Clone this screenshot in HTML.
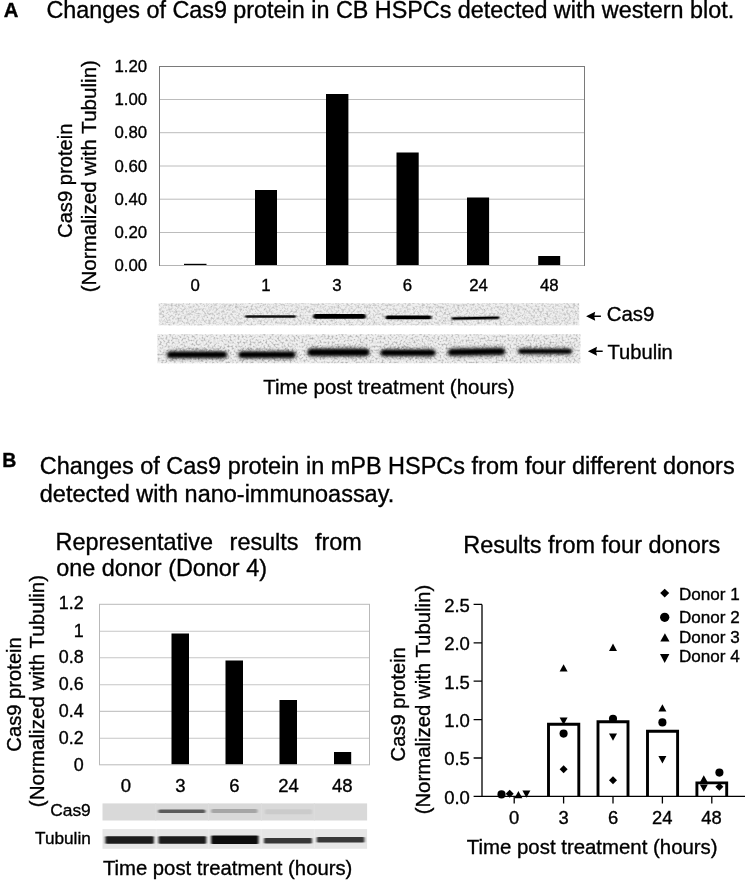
<!DOCTYPE html>
<html><head><meta charset="utf-8"><title>Cas9 protein figure</title>
<style>
html,body{margin:0;padding:0;background:#fff;}
body{width:747px;height:881px;position:relative;overflow:hidden;font-family:"Liberation Sans",Arial,sans-serif;color:#000;}
.t{position:absolute;white-space:nowrap;line-height:1;}
svg{position:absolute;left:0;top:0;}
svg text{font-family:"Liberation Sans",Arial,sans-serif;fill:#000;stroke:#000;stroke-width:0.35px;font-variant-ligatures:none;font-kerning:normal;}
</style></head><body>
<svg width="747" height="881" viewBox="0 0 747 881">
<defs>
<filter id="noise" x="0" y="0" width="100%" height="100%">
<feTurbulence type="fractalNoise" baseFrequency="0.45" numOctaves="2" seed="7" result="n"/>
<feColorMatrix in="n" type="matrix" values="0 0 0 0 0  0 0 0 0 0  0 0 0 0 0  2.4 0 0 0 -1.0"/>
<feGaussianBlur stdDeviation="0.6" result="nb"/>
<feComposite in="SourceGraphic" in2="nb" operator="in"/>
</filter>
<filter id="noise2" x="0" y="0" width="100%" height="100%">
<feTurbulence type="fractalNoise" baseFrequency="0.5" numOctaves="2" seed="21" result="n"/>
<feColorMatrix in="n" type="matrix" values="0 0 0 0 0  0 0 0 0 0  0 0 0 0 0  2.6 0 0 0 -1.15"/>
<feGaussianBlur stdDeviation="0.55" result="nb"/>
<feComposite in="SourceGraphic" in2="nb" operator="in"/>
</filter>
<filter id="b1" x="-10%" y="-100%" width="120%" height="300%"><feGaussianBlur stdDeviation="1.4 0.9"/></filter>
<filter id="b2" x="-10%" y="-100%" width="120%" height="300%"><feGaussianBlur stdDeviation="2 1.3"/></filter>
<filter id="b4" x="-5%" y="-50%" width="110%" height="200%"><feGaussianBlur stdDeviation="0.9 0.7"/></filter>
<filter id="rough" x="-10%" y="-150%" width="120%" height="400%">
<feGaussianBlur in="SourceGraphic" stdDeviation="2 1.4" result="bl"/>
<feTurbulence type="fractalNoise" baseFrequency="0.35" numOctaves="2" seed="11" result="t"/>
<feDisplacementMap in="bl" in2="t" scale="4" xChannelSelector="R" yChannelSelector="G"/>
</filter>
<filter id="b5" x="-10%" y="-100%" width="120%" height="300%"><feGaussianBlur stdDeviation="1.0 0.55"/></filter>
<filter id="b3" x="-10%" y="-100%" width="120%" height="300%"><feGaussianBlur stdDeviation="1.2 0.8"/></filter>
</defs>

<!-- ===== Panel A chart ===== -->
<g id="chartA">
<g stroke="#bcbcbc" stroke-width="1">
<line x1="160" y1="99.5" x2="584" y2="99.5"/>
<line x1="160" y1="132.7" x2="584" y2="132.7"/>
<line x1="160" y1="166" x2="584" y2="166"/>
<line x1="160" y1="199.2" x2="584" y2="199.2"/>
<line x1="160" y1="232.5" x2="584" y2="232.5"/>
</g>
<g fill="#000">
<rect x="184" y="263.8" width="22.5" height="1.7"/>
<rect x="255" y="190" width="22" height="75.5"/>
<rect x="326" y="94" width="22.4" height="171.5"/>
<rect x="396.5" y="152.5" width="22.2" height="113"/>
<rect x="467" y="197.5" width="22.1" height="68"/>
<rect x="538.2" y="256" width="22" height="9.5"/>
</g>
<rect x="159.5" y="66.5" width="425" height="199" fill="none" stroke="#7a7a7a" stroke-width="1"/>
<line x1="160" y1="265.5" x2="584" y2="265.5" stroke="#b4b4b4" stroke-width="1"/>
<g font-size="16.8" text-anchor="end">
<text x="147.1" y="72.1">1.20</text>
<text x="147.1" y="105.1">1.00</text>
<text x="147.1" y="138.3">0.80</text>
<text x="147.1" y="171.6">0.60</text>
<text x="147.1" y="204.8">0.40</text>
<text x="147.1" y="238.1">0.20</text>
<text x="147.1" y="271.1">0.00</text>
</g>
<g font-size="16.8" text-anchor="middle">
<text x="195.2" y="290.6">0</text>
<text x="266" y="290.6">1</text>
<text x="337" y="290.6">3</text>
<text x="407.5" y="290.6">6</text>
<text x="478.5" y="290.6">24</text>
<text x="549.3" y="290.6">48</text>
</g>
<text font-size="20.2" text-anchor="middle" transform="translate(71.6,180.7) rotate(-90)">Cas9 protein</text>
<text font-size="20.6" text-anchor="middle" transform="translate(95.5,176.2) rotate(-90)">(Normalized with Tubulin)</text>
</g>

<!-- ===== Panel A blots ===== -->
<g id="blotA">
<rect x="158.8" y="303.2" width="420.4" height="22.2" fill="#efefef"/>
<rect x="158.8" y="303.2" width="420.4" height="22.2" fill="#b8b8b8" filter="url(#noise)"/>
<rect x="157.4" y="334.3" width="423" height="29" fill="#f0f0f0"/>
<rect x="157.4" y="334.3" width="423" height="29" fill="#a8a8a8" filter="url(#noise2)"/>
<g fill="#000">
<rect x="245" y="315.2" width="51" height="2.6" rx="1.3" filter="url(#b5)" opacity="0.92"/>
<rect x="313" y="314" width="53" height="4.8" rx="2.4" filter="url(#b5)"/>
<rect x="385.5" y="315.5" width="46" height="3.8" rx="1.9" filter="url(#b5)"/>
<rect x="451.5" y="316.7" width="48" height="2.7" rx="1.3" filter="url(#b5)" transform="rotate(-1 475 318)"/>
<rect x="166.5" y="349.8" width="61" height="9.8" rx="4.9" filter="url(#rough)" opacity="0.38"/>
<rect x="167.5" y="352" width="59" height="5.4" rx="2.7" filter="url(#b1)"/>
<rect x="238" y="349.8" width="58" height="9.8" rx="4.9" filter="url(#rough)" opacity="0.38"/>
<rect x="239" y="352" width="56" height="5.4" rx="2.7" filter="url(#b1)"/>
<rect x="307" y="347.0" width="63" height="10.600000000000001" rx="5.3" filter="url(#rough)" opacity="0.38"/>
<rect x="308" y="349.2" width="61" height="6.2" rx="3.1" filter="url(#b1)"/>
<rect x="380" y="347.8" width="56" height="10.0" rx="5.0" filter="url(#rough)" opacity="0.38"/>
<rect x="381" y="350" width="54" height="5.6" rx="2.8" filter="url(#b1)"/>
<rect x="447.5" y="346.8" width="58" height="10.2" rx="5.1" filter="url(#rough)" opacity="0.38" transform="rotate(-1 476 352)"/>
<rect x="448.5" y="349" width="56" height="5.8" rx="2.9" filter="url(#b1)" transform="rotate(-1 476 352)"/>
<rect x="517.5" y="347.0" width="55" height="8.600000000000001" rx="4.3" filter="url(#rough)" opacity="0.38"/>
<rect x="518.5" y="349.2" width="53" height="4.2" rx="2.1" filter="url(#b1)"/>
</g>
<g fill="#000" stroke="none">
<path d="M586.1 316.2 L595.2 311.7 L594.4 315.5 L600.9 315.5 L600.9 316.9 L594.4 316.9 L595.2 320.7 Z"/>
<path d="M587.9 351.3 L597 346.8 L596.2 350.6 L602.7 350.6 L602.7 352 L596.2 352 L597 355.8 Z"/>
</g>
<text x="606.8" y="321.2" font-size="20.4">Cas9</text>
<text x="607.5" y="358.5" font-size="20.15">Tubulin</text>
<text x="263.2" y="394.2" font-size="20.45">Time post treatment (hours)</text>
</g>

<!-- ===== Panel B left chart ===== -->
<g id="chartB1">
<g stroke="#c6c6c6" stroke-width="1.15">
<line x1="100" y1="631.2" x2="369" y2="631.2"/>
<line x1="100" y1="657.7" x2="369" y2="657.7"/>
<line x1="100" y1="684.7" x2="369" y2="684.7"/>
<line x1="100" y1="711.4" x2="369" y2="711.4"/>
<line x1="100" y1="738.2" x2="369" y2="738.2"/>
</g>
<g fill="#000">
<rect x="171.5" y="633.5" width="17.5" height="131"/>
<rect x="225.5" y="660.5" width="17.5" height="104"/>
<rect x="279.5" y="700" width="17.5" height="64.5"/>
<rect x="334" y="752" width="17.2" height="12.5"/>
</g>
<rect x="99.5" y="604.3" width="270" height="160.5" fill="none" stroke="#b9b9b9" stroke-width="1"/>
<g font-size="17.9" text-anchor="end">
<text x="83.6" y="609.4">1.2</text>
<text x="83.6" y="636.6">1</text>
<text x="83.6" y="663.4">0.8</text>
<text x="83.6" y="690.2">0.6</text>
<text x="83.6" y="717">0.4</text>
<text x="83.6" y="743.8">0.2</text>
<text x="83.6" y="770.6">0</text>
</g>
<g font-size="18.5" text-anchor="middle">
<text x="126" y="792">0</text>
<text x="180.3" y="792">3</text>
<text x="234.3" y="792">6</text>
<text x="288.5" y="792">24</text>
<text x="342.3" y="792">48</text>
</g>
<text font-size="20.2" text-anchor="middle" transform="translate(21,694.4) rotate(-90)">Cas9 protein</text>
<text font-size="20.6" text-anchor="middle" transform="translate(43.7,691) rotate(-90)">(Normalized with Tubulin)</text>
<text x="90.8" y="815.5" font-size="17.4" text-anchor="end">Cas9</text>
<text x="90.8" y="843.6" font-size="17.2" text-anchor="end">Tubulin</text>
<text x="102.9" y="875" font-size="20.3">Time post treatment (hours)</text>
<!-- blots -->
<rect x="102.5" y="803.4" width="264.6" height="17.1" fill="#d9d9d9"/>
<rect x="102.5" y="829.1" width="264.6" height="19.7" fill="#e6e6e6"/>
<g stroke="#dddddd" stroke-width="1"><path d="M155.7 803.4V820.5M208.6 803.4V820.5M261.5 803.4V820.5M314.4 803.4V820.5"/></g>
<g stroke="#ebebeb" stroke-width="1.2"><path d="M156.2 829.1V848.8M208.7 829.1V848.8M261.2 829.1V848.8M314.4 829.1V848.8"/></g>
<g filter="url(#b4)">
<rect x="158.2" y="809.4" width="47.2" height="3.6" rx="1.5" fill="#5a5a5a"/>
<rect x="211.2" y="808.9" width="46.3" height="4.2" rx="1.5" fill="#a6a6a6"/>
<rect x="265" y="809.2" width="47" height="5" rx="1.5" fill="#cbcbcb"/>
</g>
<g filter="url(#b4)">
<rect x="105.4" y="836.2" width="48.4" height="7.6" rx="1" fill="#1c1c1c"/>
<rect x="158.6" y="836.2" width="47.6" height="7.6" rx="1" fill="#1c1c1c"/>
<rect x="211.2" y="835.5" width="47.2" height="8.4" rx="1" fill="#101010"/>
<rect x="264" y="838" width="48" height="5.6" rx="1" fill="#383838"/>
<rect x="316.8" y="836.9" width="47.6" height="5.6" rx="1" fill="#383838"/>
</g>
</g>

<!-- ===== Panel B right chart ===== -->
<g id="chartB2">
<g fill="none" stroke="#000" stroke-width="2.9">
<path d="M548.5 796.3V724.2H578.8V796.3"/>
<path d="M598 796.3V721.8H628V796.3"/>
<path d="M647.5 796.3V731.2H677.6V796.3"/>
<path d="M696.9 796.3V782.9H726.7V796.3"/>
</g>
<g stroke="#000" stroke-width="1.3" fill="none">
<path d="M482 604.4 V796.3 H745"/>
<path d="M473.6 604.4 H482 M473.6 642.8 H482 M473.6 681.2 H482 M473.6 719.6 H482 M473.6 758 H482 M473.6 796.3 H482"/>
<path d="M514.2 796.3 V803.5 M563.6 796.3 V803.5 M613 796.3 V803.5 M662.4 796.3 V803.5 M711.8 796.3 V803.5"/>
</g>
<g font-size="18.5" text-anchor="end">
<text x="469.9" y="611.7">2.5</text>
<text x="469.9" y="650.1">2.0</text>
<text x="469.9" y="688.5">1.5</text>
<text x="469.9" y="726.9">1.0</text>
<text x="469.9" y="765.3">0.5</text>
<text x="469.9" y="803.7">0.0</text>
</g>
<g font-size="18.4" text-anchor="middle">
<text x="514.2" y="823.5">0</text>
<text x="563.6" y="823.5">3</text>
<text x="613" y="823.5">6</text>
<text x="662.2" y="823.5">24</text>
<text x="711.6" y="823.5">48</text>
</g>
<text font-size="20.15" text-anchor="middle" transform="translate(405.3,704.3) rotate(-90)">Cas9 protein</text>
<text font-size="20.35" text-anchor="middle" transform="translate(429.8,699.6) rotate(-90)">(Normalized with Tubulin)</text>
<text x="466.8" y="854.4" font-size="20.4">Time post treatment (hours)</text>
<defs>
<path id="mD" d="M0 -4 L4 0 L0 4 L-4 0 Z"/>
<circle id="mC" r="4.05"/>
<path id="mU" d="M0 -3.8 L4 3.5 L-4 3.5 Z"/>
<path id="mV" d="M0 3.8 L4 -3.5 L-4 -3.5 Z"/>
<path id="lD" d="M0 -4.3 L4.5 0 L0 4.3 L-4.5 0 Z"/>
<circle id="lC" r="4.65"/>
<path id="lU" d="M0 -4.2 L4.6 4 L-4.6 4 Z"/>
<path id="lV" d="M0 4.7 L4.7 -4.5 L-4.7 -4.5 Z"/>
</defs>
<g fill="#000">
<use href="#mC" x="501.5" y="794.4"/><use href="#mD" x="509.7" y="793.8"/><use href="#mU" x="518.4" y="794.8"/><use href="#mV" x="526.4" y="794"/>
<use href="#mU" x="563.6" y="668"/><use href="#mV" x="563.6" y="721"/><use href="#mC" x="563.6" y="733.6"/><use href="#mD" x="563.6" y="769.2"/>
<use href="#mU" x="613" y="647.4"/><use href="#mC" x="613" y="718.8"/><use href="#mV" x="613" y="737"/><use href="#mD" x="613" y="780.2"/>
<use href="#mU" x="662.4" y="708"/><use href="#mC" x="662.4" y="722.4"/><use href="#mV" x="662.4" y="759.6"/>
<use href="#mU" x="703.8" y="779"/><use href="#mC" x="719.4" y="772.6"/><use href="#mV" x="703.8" y="788"/><use href="#mD" x="719.4" y="786.8"/>
<use href="#lD" x="664.7" y="593.1"/><use href="#lC" x="664.7" y="617.3"/><use href="#lU" x="664.9" y="637.4"/><use href="#lV" x="664.7" y="658.4"/>
</g>
<g font-size="17.1">
<text x="678.9" y="599.7">Donor 1</text>
<text x="678.9" y="622.7">Donor 2</text>
<text x="678.9" y="642.6">Donor 3</text>
<text x="678.9" y="662.1">Donor 4</text>
</g>
</g>

<!-- ===== Titles ===== -->
<g id="titles">
<text x="3.8" y="17.4" font-size="20.3" font-weight="bold">A</text>
<text x="46.5" y="17.9" font-size="23.35">Changes of Cas9 protein in CB HSPCs detected with western blot.</text>
<text x="2.2" y="467.3" font-size="19.5" font-weight="bold">B</text>
<text x="39.8" y="474" font-size="23.47">Changes of Cas9 protein in mPB HSPCs from four different donors</text>
<text x="39.8" y="502.1" font-size="23.47">detected with nano-immunoassay.</text>
<text y="549.6" font-size="23.4"><tspan x="55.6">Representative</tspan><tspan x="229.6">results</tspan><tspan x="314.9">from</tspan></text>
<text x="56.3" y="575.5" font-size="23.4">one donor (Donor 4)</text>
<text x="463.3" y="553" font-size="23.48">Results from four donors</text>
</g>
</svg>

</body></html>
